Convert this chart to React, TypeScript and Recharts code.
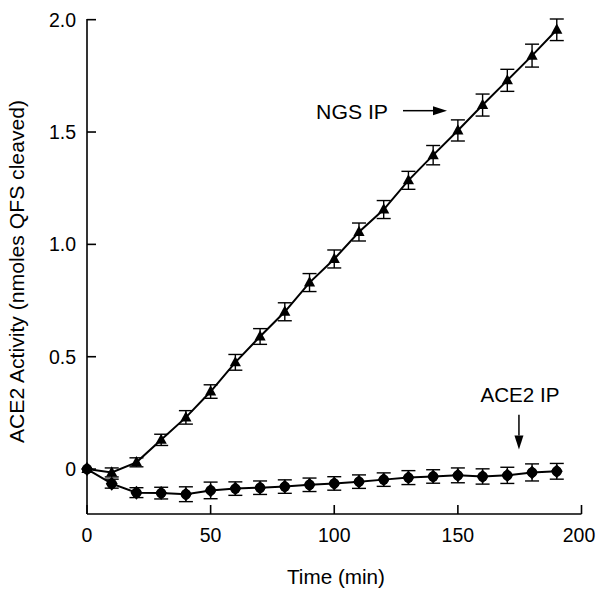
import React from "react"
import { LineChart, Line, XAxis, YAxis, ErrorBar, ReferenceLine, ReferenceDot } from "recharts"

// time points (min)
const times = [0, 10, 20, 30, 40, 50, 60, 70, 80, 90, 100, 110, 120, 130, 140, 150, 160, 170, 180, 190]

// NGS IP (triangles)
const ngsActivity = [0, -0.015, 0.03, 0.13, 0.23, 0.345, 0.475, 0.59, 0.7, 0.83, 0.935, 1.055, 1.155, 1.285, 1.397, 1.507, 1.62, 1.73, 1.84, 1.955]
const ngsError = [0, 0.02, 0.02, 0.025, 0.03, 0.03, 0.035, 0.035, 0.04, 0.04, 0.04, 0.04, 0.04, 0.04, 0.043, 0.047, 0.049, 0.049, 0.051, 0.048]

// ACE2 IP (diamonds)
const ace2Activity = [0, -0.065, -0.105, -0.107, -0.112, -0.095, -0.087, -0.083, -0.078, -0.07, -0.064, -0.056, -0.047, -0.038, -0.033, -0.028, -0.033, -0.028, -0.015, -0.01]
const ace2Error = [0, 0.02, 0.022, 0.026, 0.033, 0.037, 0.03, 0.03, 0.03, 0.03, 0.03, 0.03, 0.03, 0.031, 0.03, 0.033, 0.034, 0.036, 0.038, 0.035]

const xTicks = [0, 50, 100, 150, 200]
const yTicks = [0, 0.5, 1, 1.5, 2]
const yTickLabels = ["0", "0.5", "1.0", "1.5", "2.0"]

const data = times.map((t, i) => ({
  time: t,
  ngs: ngsActivity[i],
  ngsErr: ngsError[i],
  ace2: ace2Activity[i],
  ace2Err: ace2Error[i],
}))

const FONT = "'Liberation Sans', Arial, Helvetica, sans-serif"
const FS = 19.5
const INK = "#000"

function YTick({ x, y, payload }: any) {
  const label = yTickLabels[yTicks.indexOf(payload.value)]
  return (
    <g>
      <line x1={x + 11} x2={x + 20} y1={y} y2={y} stroke={INK} strokeWidth={1.6} />
      <text x={x} y={y} dy="0.36em" textAnchor="end" fontFamily={FONT} fontSize={FS} fill={INK}>
        {label}
      </text>
    </g>
  )
}

function XTick({ x, y, payload }: any) {
  // the last label sits against the right edge of the page
  const last = payload.value === xTicks[xTicks.length - 1]
  return (
    <g>
      <line x1={x} x2={x} y1={y - 21} y2={y - 30} stroke={INK} strokeWidth={1.6} />
      <text x={last ? x - 2.5 : x} y={y} dy="0.36em" textAnchor="middle" fontFamily={FONT} fontSize={FS} fill={INK}>
        {payload.value}
      </text>
    </g>
  )
}

function Triangle({ cx, cy }: any) {
  if (cx == null || cy == null) return null
  return <path d={`M${cx},${cy - 6.2} L${cx + 5.6},${cy + 4} L${cx - 5.6},${cy + 4} Z`} fill={INK} />
}

function Diamond({ cx, cy }: any) {
  if (cx == null || cy == null) return null
  return (
    <g>
      <circle cx={cx} cy={cy} r={5.2} fill={INK} />
      <path d={`M${cx},${cy - 7} L${cx + 6},${cy} L${cx},${cy + 7} L${cx - 6},${cy} Z`} fill={INK} />
    </g>
  )
}

// arrow drawn between the two ends of a ReferenceLine segment
function Arrow({ x1, y1, x2, y2 }: any) {
  const dx = x2 - x1
  const dy = y2 - y1
  const len = Math.sqrt(dx * dx + dy * dy) || 1
  const ux = dx / len
  const uy = dy / len
  const head = 14
  const half = 4.5
  const bx = x2 - ux * head
  const by = y2 - uy * head
  return (
    <g>
      <line x1={x1} y1={y1} x2={bx} y2={by} stroke={INK} strokeWidth={1.5} />
      <path
        d={`M${x2},${y2} L${bx - uy * half},${by + ux * half} L${bx + uy * half},${by - ux * half} Z`}
        fill={INK}
      />
    </g>
  )
}

function note(text: string, width: number) {
  return ({ cx, cy }: any) => (
    <text x={cx} y={cy} dy="0.36em" textAnchor="middle" fontFamily={FONT} fontSize={FS}
      fill={INK} textLength={width} lengthAdjust="spacingAndGlyphs">
      {text}
    </text>
  )
}

function YTitle() {
  return (
    <text x={24} y={271.5} transform="rotate(-90 24 271.5)" textAnchor="middle" fontFamily={FONT}
      fontSize={FS} fill={INK} textLength={343} lengthAdjust="spacingAndGlyphs">
      ACE2 Activity (nmoles QFS cleaved)
    </text>
  )
}

function XTitle() {
  return (
    <text x={336} y={583.5} textAnchor="middle" fontFamily={FONT} fontSize={FS} fill={INK}
      textLength={98} lengthAdjust="spacingAndGlyphs">
      Time (min)
    </text>
  )
}

export default function App() {
  return (
    <div style={{ position: "absolute", left: 0, top: 0, background: "#fff" }}>
      <LineChart width={596} height={592} data={data} margin={{ top: 19, right: 14.5, bottom: 0, left: 0 }}>
        <XAxis
          dataKey="time"
          type="number"
          domain={[0, 200]}
          ticks={xTicks}
          interval={0}
          height={78}
          tickSize={0}
          tickMargin={21}
          tick={<XTick />}
          axisLine={{ stroke: INK, strokeWidth: 1.6 }}
          tickLine={false}
          label={<XTitle />}
        />
        <YAxis
          type="number"
          domain={[-0.2, 2]}
          ticks={yTicks}
          interval={0}
          width={87}
          tickSize={0}
          tickMargin={11}
          tick={<YTick />}
          axisLine={{ stroke: INK, strokeWidth: 1.6 }}
          tickLine={false}
          label={<YTitle />}
        />
        <Line
          dataKey="ace2"
          stroke={INK}
          strokeWidth={2}
          dot={(p: any) => <Diamond key={p.key} {...p} />}
          isAnimationActive={false}
        >
          <ErrorBar dataKey="ace2Err" width={7} stroke={INK} strokeWidth={1.4} />
        </Line>
        <Line
          dataKey="ngs"
          stroke={INK}
          strokeWidth={2}
          dot={(p: any) => <Triangle key={p.key} {...p} />}
          isAnimationActive={false}
        >
          <ErrorBar dataKey="ngsErr" width={7} stroke={INK} strokeWidth={1.4} />
        </Line>
        <ReferenceLine segment={[{ x: 127.8, y: 1.595 }, { x: 145.6, y: 1.595 }]} shape={Arrow} />
        <ReferenceLine segment={[{ x: 174.7, y: 0.242 }, { x: 174.7, y: 0.087 }]} shape={Arrow} />
        <ReferenceDot x={107.2} y={1.59} shape={note("NGS IP", 72)} />
        <ReferenceDot x={175.1} y={0.331} shape={note("ACE2 IP", 79)} />
      </LineChart>
    </div>
  )
}
